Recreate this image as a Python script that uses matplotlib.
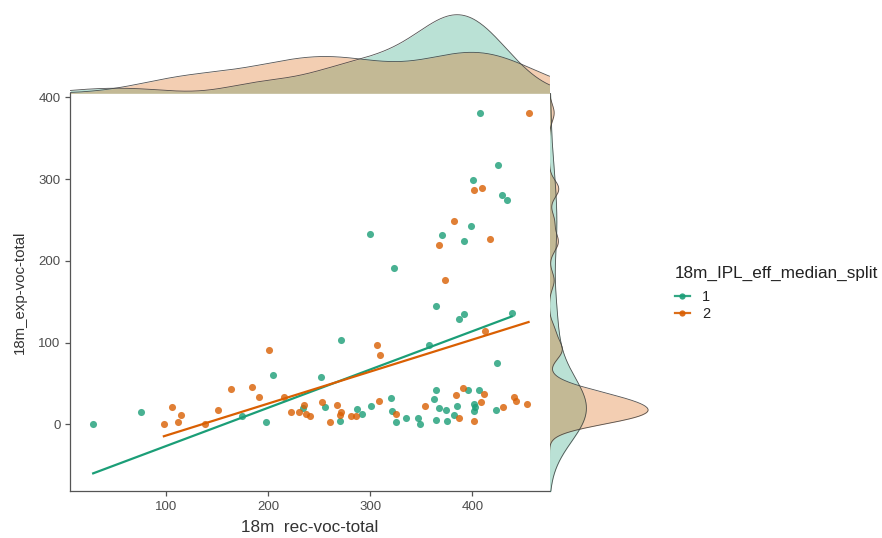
import numpy as np
import matplotlib
matplotlib.use("Agg")
import matplotlib.pyplot as plt
from matplotlib.lines import Line2D

plt.rcParams['font.family'] = ['Liberation Sans', 'DejaVu Sans']

# ---- data ----
groups = ["1", "2"]
colors = {"1": "#1B9E77", "2": "#D95F02"}

g1_rec = [28.8, 75.6, 174, 198, 204.7, 234, 251.5, 255.8, 271.4, 270.7, 286.6, 291.5,
          300.7, 300, 320.5, 321.8, 323.5, 325.7, 335.4, 346.5, 349, 357.6, 362, 364.4,
          364.4, 367.6, 370, 373.8, 375, 364.4, 385, 381.6, 396, 387, 391.4, 392, 399,
          401, 401.8, 403, 402, 406.6, 407, 424, 423.6, 425.5, 429, 434, 438.5]
g1_exp = [0, 14.7, 9.8, 3, 60, 20, 58, 21, 103.6, 4.5, 18.7, 12.2,
          22, 233, 32, 16, 191, 2.9, 8.2, 8.2, 0.8, 97.5, 31, 42,
          4.9, 20, 232, 17, 4.5, 144.8, 22, 11.4, 42, 129, 135, 224, 243,
          299, 24.5, 21.6, 16, 42, 381, 75, 17, 317, 280, 275, 136.7]

g2_rec = [98, 106, 112, 115, 138, 150.7, 164, 184, 191, 201, 216, 222, 229.8, 235, 237,
          241, 253, 260.7, 267.8, 270, 271.4, 281, 286, 308.5, 307, 309.8, 325.4, 354,
          367.6, 373.5, 381.6, 384, 387, 390.7, 401.5, 402, 409, 408.6, 411.5, 412, 417,
          430.4, 441, 442.7, 453, 455]
g2_exp = [0.8, 21, 3, 11, 0.8, 17, 43.6, 45.6, 33, 90.6, 33, 15.5, 15.5, 23, 12,
          10, 27, 2.4, 24, 11, 14.7, 10.6, 10.6, 28.5, 97.5, 85, 12.2, 22,
          219, 176, 249, 35.5, 7.3, 44.4, 4, 287, 289, 27.3, 37, 114.6, 227,
          21, 33.8, 28, 24.8, 381]

data = {"1": (np.array(g1_rec), np.array(g1_exp)),
        "2": (np.array(g2_rec), np.array(g2_exp))}

x_ticks = [100, 200, 300, 400]
y_ticks = [0, 100, 200, 300, 400]
xlim = (6.5, 475.5)
ylim = (-82, 405)
legend_title = "18m_IPL_eff_median_split"


def bw_nrd0(v):
    v = np.asarray(v, float)
    sd = v.std(ddof=1)
    iqr = np.subtract(*np.percentile(v, [75, 25]))
    lo = min(sd, iqr / 1.34) if iqr > 0 else sd
    return 0.9 * lo * len(v) ** (-0.2)


def kde(v, grid):
    h = bw_nrd0(v)
    z = (grid[:, None] - v[None, :]) / h
    return np.exp(-0.5 * z ** 2).sum(axis=1) / (len(v) * h * np.sqrt(2 * np.pi))


W, H = 882, 538
fig = plt.figure(figsize=(W / 100, H / 100), dpi=100)

L, R = 70.4, 549.5
T, B = 93.3, 491.3
ax = fig.add_axes([L / W, 1 - B / H, (R - L) / W, (B - T) / H])
axt = fig.add_axes([L / W, 1 - T / H, (R - L) / W, (T - 10) / H])
axr = fig.add_axes([R / W, 1 - B / H, (652 - R) / W, (B - T) / H])

for g in groups:
    x, y = data[g]
    ax.scatter(x, y, s=26, color=colors[g], alpha=0.8, linewidths=0, zorder=3)
    k, b = np.polyfit(x, y, 1)
    xs = np.array([x.min(), x.max()])
    ax.plot(xs, k * xs + b, color=colors[g], lw=1.6, zorder=4)

ax.set_xlim(*xlim)
ax.set_ylim(*ylim)
ax.set_xticks(x_ticks)
ax.set_yticks(y_ticks)
for s in ["top", "right"]:
    ax.spines[s].set_visible(False)
for s in ["left", "bottom"]:
    ax.spines[s].set_color("#555555")
    ax.spines[s].set_linewidth(0.9)
ax.tick_params(colors="#555555", labelcolor="#4D4D4D", labelsize=9.5, length=3.5, width=0.9)
ax.set_xlabel("18m  rec-voc-total", fontsize=12.3, color="#333333", labelpad=5)
ax.set_ylabel("18m_exp-voc-total", fontsize=10.8, color="#333333", labelpad=8)

# top marginal
gx = np.linspace(xlim[0], xlim[1], 400)
mt = 0
for g in groups:
    d = kde(data[g][0], gx)
    mt = max(mt, d.max())
    axt.fill_between(gx, 0, d, color=colors[g], alpha=0.3, lw=0)
    axt.plot(gx, d, color="#404040", lw=0.6, alpha=0.9)
axt.set_xlim(*xlim)
axt.set_ylim(0, mt * 1.06)
axt.axis("off")

# right marginal
gy = np.linspace(ylim[0], ylim[1], 600)
mr = 0
for g in groups:
    d = kde(data[g][1], gy)
    mr = max(mr, d.max())
    axr.fill_betweenx(gy, 0, d, color=colors[g], alpha=0.3, lw=0)
    axr.plot(d, gy, color="#404040", lw=0.6, alpha=0.9)
axr.set_ylim(*ylim)
axr.set_xlim(0, mr * 1.04)
axr.axis("off")

# legend
fig.text(675 / W, 1 - 273 / H, legend_title, fontsize=12.3, color="#222222",
         ha="left", va="center")
handles = [Line2D([0], [0], color=colors[g], lw=1.6, marker="o", markersize=4.5,
                  markeredgewidth=0, alpha=0.9) for g in groups]
leg = fig.legend(handles, groups, loc="upper left",
                 bbox_to_anchor=(675 / W, 1 - 290 / H),
                 frameon=False, fontsize=10.5,
                 handlelength=1.0, handletextpad=0.85, labelspacing=0.2,
                 borderpad=0, borderaxespad=0)
for t in leg.get_texts():
    t.set_color("#222222")

fig.savefig("out.png", dpi=100)
